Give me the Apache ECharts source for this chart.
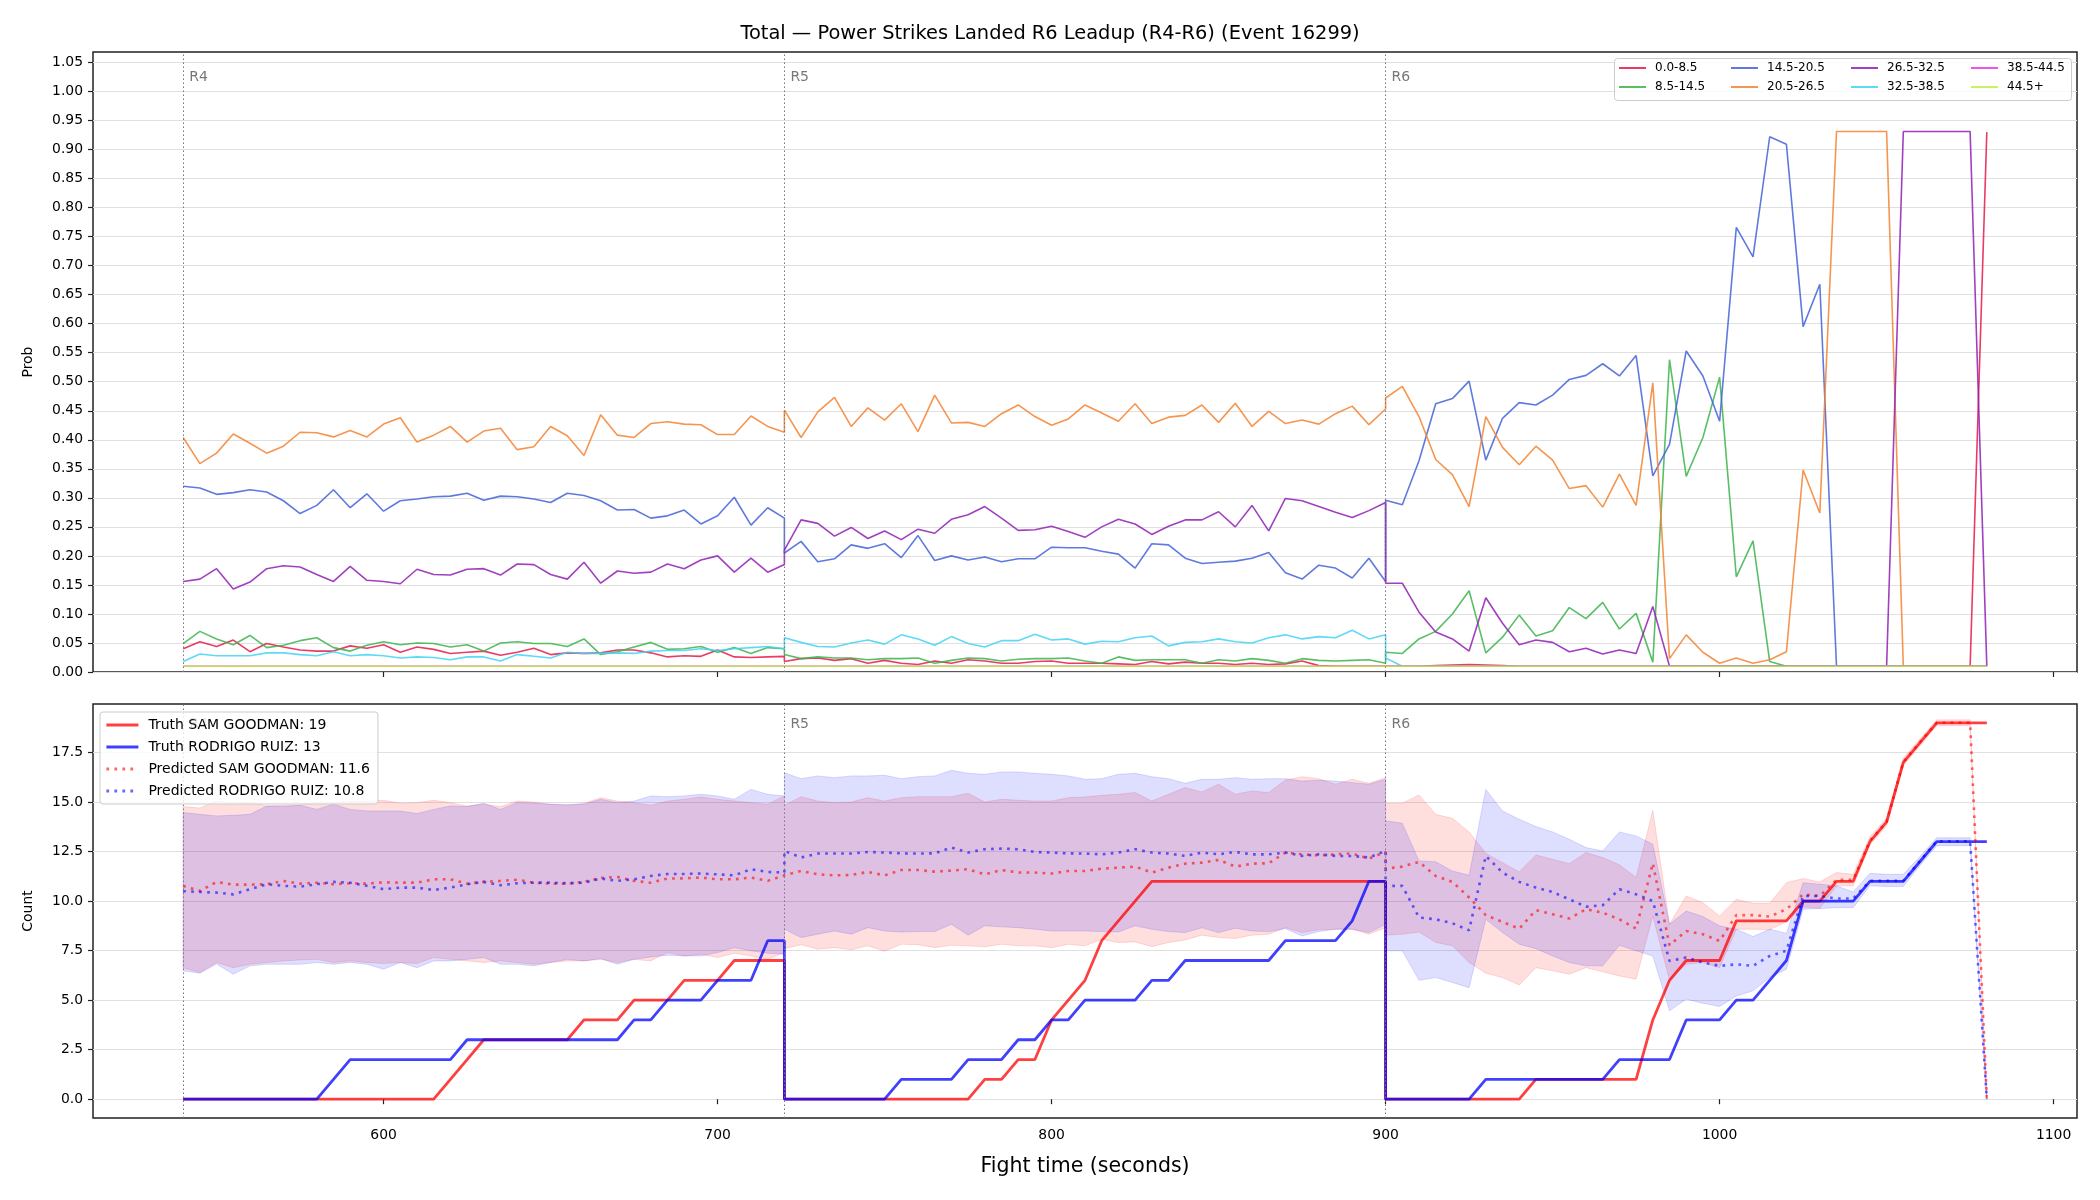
<!DOCTYPE html>
<html>
<head>
<meta charset="utf-8">
<title>Power Strikes Landed R6 Leadup</title>
<script src="https://cdn.jsdelivr.net/npm/echarts@6/dist/echarts.min.js"></script>
<style>
  html, body { margin: 0; padding: 0; background: #fff; }
  #chart { width: 2100px; height: 1200px; }
</style>
</head>
<body>
<div id="chart"></div>
<script>
const FONT = 'DejaVu Sans';

// one sample every 5 s, each round 180 s long; rounds share their boundary second
const roundStarts = [540, 720, 900];
const roundNames = ['R4', 'R5', 'R6'];
const times = [];
roundStarts.forEach(function (s) {
    for (let t = s; t <= s + 180; t += 5) times.push(t);
});

const xTicks = [600, 700, 800, 900, 1000, 1100];
const probTicks = [0, 0.05, 0.1, 0.15, 0.2, 0.25, 0.3, 0.35, 0.4, 0.45, 0.5, 0.55, 0.6, 0.65, 0.7, 0.75, 0.8, 0.85, 0.9, 0.95, 1.0, 1.05];
const countTicks = [0, 2.5, 5, 7.5, 10, 12.5, 15, 17.5];

const buckets = ['0.0-8.5', '8.5-14.5', '14.5-20.5', '20.5-26.5', '26.5-32.5', '32.5-38.5', '38.5-44.5', '44.5+'];
const bucketColors = ['#e6194b', '#3cb44b', '#4363d8', '#f58231', '#911eb4', '#42d4f4', '#f032e6', '#bfef45'];

// probability per bucket (R4 / R5 / R6 rows)
const p0_8 = [
    0.040,0.052,0.044,0.055,0.035,0.049,0.043,0.038,0.036,0.036,0.045,0.041,0.047,0.034,0.043,0.039,0.032,0.034,0.036,0.029,0.034,0.041,0.030,0.033,0.032,0.033,0.038,0.038,0.033,0.026,0.028,0.027,0.038,0.026,0.025,0.026,0.027,
    0.018,0.023,0.024,0.020,0.023,0.015,0.020,0.015,0.013,0.019,0.015,0.021,0.019,0.015,0.015,0.018,0.019,0.015,0.015,0.015,0.014,0.013,0.018,0.014,0.017,0.015,0.015,0.013,0.015,0.013,0.014,0.019,0.011,0.010,0.010,0.010,0.010,
    0.010,0.010,0.010,0.011,0.012,0.013,0.012,0.011,0.010,0.010,0.010,0.010,0.010,0.010,0.010,0.010,0.010,0.010,0.010,0.010,0.010,0.010,0.010,0.010,0.010,0.010,0.010,0.010,0.010,0.010,0.010,0.010,0.010,0.010,0.010,0.010,0.930
];
const p8_14 = [
    0.049,0.070,0.057,0.047,0.063,0.042,0.046,0.054,0.059,0.042,0.036,0.046,0.052,0.047,0.050,0.049,0.043,0.047,0.036,0.050,0.052,0.049,0.049,0.044,0.057,0.030,0.035,0.043,0.051,0.039,0.040,0.044,0.034,0.042,0.032,0.042,0.040,
    0.030,0.023,0.026,0.024,0.024,0.021,0.023,0.023,0.024,0.015,0.020,0.024,0.023,0.019,0.022,0.023,0.023,0.024,0.019,0.015,0.026,0.020,0.021,0.021,0.021,0.015,0.021,0.019,0.023,0.020,0.015,0.023,0.020,0.019,0.020,0.021,0.015,
    0.034,0.032,0.057,0.070,0.100,0.140,0.033,0.060,0.098,0.062,0.071,0.111,0.092,0.120,0.074,0.101,0.017,0.538,0.337,0.404,0.508,0.164,0.226,0.018,0.010,0.010,0.010,0.010,0.010,0.010,0.010,0.010,0.010,0.010,0.010,0.010,0.010
];
const p14_20 = [
    0.320,0.317,0.306,0.309,0.314,0.310,0.295,0.273,0.287,0.314,0.283,0.307,0.277,0.295,0.298,0.302,0.303,0.308,0.296,0.303,0.302,0.298,0.292,0.308,0.304,0.295,0.279,0.280,0.265,0.269,0.279,0.255,0.269,0.301,0.253,0.283,0.265,
    0.205,0.225,0.190,0.195,0.219,0.213,0.221,0.197,0.235,0.192,0.200,0.193,0.198,0.190,0.195,0.195,0.215,0.214,0.214,0.208,0.203,0.179,0.221,0.219,0.196,0.187,0.189,0.191,0.196,0.206,0.171,0.160,0.184,0.179,0.162,0.196,0.156,
    0.296,0.288,0.364,0.462,0.471,0.501,0.365,0.437,0.464,0.460,0.477,0.504,0.511,0.531,0.510,0.545,0.338,0.392,0.553,0.510,0.432,0.766,0.715,0.922,0.909,0.595,0.668,0.010,0.010,0.010,0.010,0.010,0.010,0.010,0.010,0.010,0.010
];
const p20_26 = [
    0.404,0.359,0.377,0.410,0.394,0.377,0.389,0.413,0.412,0.405,0.416,0.405,0.427,0.438,0.396,0.408,0.423,0.396,0.415,0.420,0.383,0.388,0.423,0.407,0.373,0.443,0.408,0.404,0.428,0.431,0.427,0.426,0.409,0.409,0.441,0.423,0.413,
    0.451,0.404,0.448,0.473,0.423,0.455,0.434,0.462,0.414,0.477,0.429,0.430,0.423,0.445,0.460,0.440,0.425,0.436,0.460,0.446,0.432,0.462,0.428,0.439,0.442,0.460,0.430,0.463,0.423,0.449,0.428,0.434,0.427,0.445,0.458,0.426,0.453,
    0.472,0.492,0.440,0.366,0.340,0.285,0.440,0.387,0.357,0.389,0.365,0.316,0.321,0.284,0.341,0.287,0.498,0.023,0.064,0.034,0.015,0.024,0.015,0.021,0.035,0.348,0.274,0.931,0.931,0.931,0.931,0.010,0.010,0.010,0.010,0.010,0.010
];
const p26_32 = [
    0.156,0.160,0.178,0.143,0.155,0.178,0.183,0.181,0.168,0.156,0.182,0.158,0.156,0.152,0.177,0.168,0.167,0.177,0.178,0.167,0.186,0.185,0.168,0.160,0.189,0.153,0.174,0.170,0.172,0.186,0.178,0.193,0.200,0.172,0.196,0.172,0.185,
    0.210,0.262,0.256,0.234,0.249,0.230,0.243,0.228,0.246,0.239,0.263,0.271,0.285,0.265,0.244,0.245,0.251,0.242,0.232,0.250,0.263,0.255,0.237,0.251,0.262,0.262,0.276,0.250,0.287,0.243,0.299,0.295,0.285,0.275,0.266,0.278,0.292,
    0.153,0.153,0.103,0.069,0.057,0.036,0.128,0.084,0.047,0.055,0.051,0.035,0.041,0.031,0.038,0.032,0.113,0.010,0.010,0.010,0.010,0.010,0.010,0.010,0.010,0.010,0.010,0.010,0.010,0.010,0.010,0.931,0.931,0.931,0.931,0.931,0.010
];
const p32_38 = [
    0.018,0.031,0.028,0.028,0.028,0.033,0.033,0.030,0.028,0.035,0.028,0.030,0.028,0.024,0.026,0.025,0.021,0.026,0.026,0.019,0.030,0.027,0.024,0.034,0.032,0.032,0.033,0.032,0.036,0.037,0.037,0.040,0.037,0.040,0.042,0.044,0.040,
    0.059,0.051,0.044,0.043,0.050,0.055,0.048,0.064,0.057,0.046,0.061,0.049,0.043,0.054,0.054,0.065,0.055,0.057,0.048,0.053,0.052,0.059,0.062,0.045,0.051,0.052,0.057,0.052,0.050,0.059,0.064,0.057,0.061,0.059,0.072,0.057,0.064,
    0.024,0.010,0.010,0.010,0.010,0.010,0.010,0.010,0.010,0.010,0.010,0.010,0.010,0.010,0.010,0.010,0.010,0.010,0.010,0.010,0.010,0.010,0.010,0.010,0.010,0.010,0.010,0.010,0.010,0.010,0.010,0.010,0.010,0.010,0.010,0.010,0.010
];
const p38_44 = [
    0.010,0.010,0.010,0.010,0.010,0.010,0.010,0.010,0.010,0.010,0.010,0.010,0.010,0.010,0.010,0.010,0.010,0.010,0.010,0.010,0.010,0.010,0.010,0.010,0.010,0.010,0.010,0.010,0.010,0.010,0.010,0.010,0.010,0.010,0.010,0.010,0.010,
    0.010,0.010,0.010,0.010,0.010,0.010,0.010,0.010,0.010,0.010,0.010,0.010,0.010,0.010,0.010,0.010,0.010,0.010,0.010,0.010,0.010,0.010,0.010,0.010,0.010,0.010,0.010,0.010,0.010,0.010,0.010,0.010,0.010,0.010,0.010,0.010,0.010,
    0.010,0.010,0.010,0.010,0.010,0.010,0.010,0.010,0.010,0.010,0.010,0.010,0.010,0.010,0.010,0.010,0.010,0.010,0.010,0.010,0.010,0.010,0.010,0.010,0.010,0.010,0.010,0.010,0.010,0.010,0.010,0.010,0.010,0.010,0.010,0.010,0.010
];
const p44up = [
    0.010,0.010,0.010,0.010,0.010,0.010,0.010,0.010,0.010,0.010,0.010,0.010,0.010,0.010,0.010,0.010,0.010,0.010,0.010,0.010,0.010,0.010,0.010,0.010,0.010,0.010,0.010,0.010,0.010,0.010,0.010,0.010,0.010,0.010,0.010,0.010,0.010,
    0.010,0.010,0.010,0.010,0.010,0.010,0.010,0.010,0.010,0.010,0.010,0.010,0.010,0.010,0.010,0.010,0.010,0.010,0.010,0.010,0.010,0.010,0.010,0.010,0.010,0.010,0.010,0.010,0.010,0.010,0.010,0.010,0.010,0.010,0.010,0.010,0.010,
    0.010,0.010,0.010,0.010,0.010,0.010,0.010,0.010,0.010,0.010,0.010,0.010,0.010,0.010,0.010,0.010,0.010,0.010,0.010,0.010,0.010,0.010,0.010,0.010,0.010,0.010,0.010,0.010,0.010,0.010,0.010,0.010,0.010,0.010,0.010,0.010,0.010
];
const probSeries = [p0_8, p8_14, p14_20, p20_26, p26_32, p32_38, p38_44, p44up];

// cumulative counts
const truthSam = [
    0,0,0,0,0,0,0,0,0,0,0,0,0,0,0,0,1,2,3,3,3,3,3,3,4,4,4,5,5,5,6,6,6,7,7,7,7,
    0,0,0,0,0,0,0,0,0,0,0,0,1,1,2,2,4,5,6,8,9,10,11,11,11,11,11,11,11,11,11,11,11,11,11,11,11,
    0,0,0,0,0,0,0,0,0,1,1,1,1,1,1,1,4,6,7,7,7,9,9,9,9,10,10,11,11,13,14,17,18,19,19,19,19
];
const truthRuiz = [
    0,0,0,0,0,0,0,0,0,1,2,2,2,2,2,2,2,3,3,3,3,3,3,3,3,3,3,4,4,5,5,5,6,6,6,8,8,
    0,0,0,0,0,0,0,1,1,1,1,2,2,2,3,3,4,4,5,5,5,5,6,6,7,7,7,7,7,7,8,8,8,8,9,11,11,
    0,0,0,0,0,0,1,1,1,1,1,1,1,1,2,2,2,2,4,4,4,5,5,6,7,10,10,10,10,11,11,11,12,13,13,13,13
];
const predSam = [
    10.77,10.51,10.97,10.83,10.83,10.85,11.02,10.88,10.93,10.85,10.90,10.88,10.95,10.93,10.93,11.10,11.10,10.88,10.97,11.02,11.08,10.93,10.88,10.88,10.97,11.17,11.22,11.02,10.93,11.14,11.15,11.19,11.10,11.10,11.19,11.02,11.30,
    11.35,11.52,11.35,11.30,11.32,11.47,11.30,11.57,11.57,11.49,11.54,11.61,11.35,11.57,11.44,11.44,11.39,11.52,11.52,11.64,11.69,11.74,11.44,11.69,11.89,11.94,12.08,11.74,11.89,11.91,12.45,12.36,12.31,12.36,12.41,12.14,12.48,
    11.64,11.74,11.98,11.27,10.97,10.18,9.29,8.95,8.61,9.54,9.34,9.12,9.59,9.42,9.08,8.61,11.91,7.77,8.49,8.33,7.99,9.29,9.29,9.22,9.59,10.34,10.26,11.07,11.07,13.04,14.00,17.02,18.03,19.00,19.00,19.00,0.00
];
const predRuiz = [
    10.50,10.46,10.43,10.34,10.60,10.85,10.77,10.73,10.85,10.97,10.93,10.77,10.60,10.68,10.68,10.56,10.68,10.85,10.97,10.80,10.90,10.93,10.93,10.90,10.93,11.14,11.02,11.10,11.27,11.37,11.37,11.39,11.35,11.30,11.61,11.47,11.44,
    12.53,12.20,12.40,12.40,12.40,12.48,12.45,12.41,12.40,12.41,12.70,12.45,12.62,12.65,12.62,12.48,12.45,12.41,12.40,12.36,12.45,12.62,12.45,12.40,12.28,12.45,12.36,12.48,12.36,12.36,12.45,12.28,12.36,12.28,12.28,12.20,12.53,
    10.77,10.77,9.17,9.08,8.88,8.53,12.28,11.44,10.97,10.68,10.46,10.09,9.72,9.79,10.60,10.34,10.00,6.98,7.15,6.90,6.73,6.81,6.73,7.23,7.49,10.26,10.26,10.13,10.13,11.02,11.02,11.02,12.03,13.02,13.02,13.02,0.00
];
// prediction bands
const samHi = [
    14.77,14.70,15.05,14.97,15.00,14.80,14.84,14.84,14.97,14.97,15.05,15.05,15.09,14.94,14.97,15.09,14.97,14.80,14.89,14.77,15.05,15.00,14.89,14.84,14.94,15.22,15.05,14.97,14.84,15.05,15.14,15.26,15.14,15.05,14.97,14.89,15.31,
    14.84,15.27,15.05,14.97,15.00,15.22,15.05,15.22,15.27,15.27,15.27,15.44,15.00,15.14,15.09,15.05,15.05,15.22,15.26,15.34,15.39,15.48,15.05,15.39,15.73,15.51,15.90,15.39,15.56,15.48,16.11,16.28,16.18,15.90,16.15,15.95,16.23,
    14.94,14.94,15.36,14.38,14.18,13.49,12.41,11.94,11.47,12.33,12.11,11.89,12.45,12.20,11.83,11.19,14.58,8.83,10.26,9.92,9.25,10.09,9.89,9.89,10.93,11.14,10.97,11.44,11.35,13.25,14.20,17.20,18.20,19.15,19.15,19.15,0.00
];
const samLo = [
    6.64,6.39,6.90,6.64,6.81,6.90,6.98,7.03,7.06,6.90,6.98,6.90,6.85,6.90,6.85,7.15,7.06,6.98,6.90,6.98,6.90,6.81,6.90,6.98,6.98,7.06,6.90,7.06,6.98,7.40,7.23,7.32,7.15,7.37,7.23,7.06,7.40,
    7.60,7.80,7.57,7.65,7.54,7.74,7.47,7.82,7.80,7.65,7.77,7.74,7.69,7.82,7.74,7.74,7.65,7.82,7.74,8.07,7.91,7.94,7.70,7.91,8.04,8.28,8.16,8.11,8.28,8.33,8.66,8.41,8.55,8.58,8.58,8.33,8.66,
    8.28,8.33,8.44,7.91,7.74,6.90,6.36,6.14,5.77,6.64,6.48,6.31,6.64,6.43,6.22,6.06,9.25,6.02,6.81,6.90,6.64,8.58,8.58,8.55,8.97,9.72,9.62,10.77,10.77,12.85,13.80,16.85,17.85,18.85,18.85,18.85,0.00
];
const ruizHi = [
    14.47,14.38,14.30,14.33,14.38,14.80,14.77,14.84,14.63,14.89,14.63,14.55,14.55,14.55,14.42,14.63,14.80,14.77,14.94,14.63,14.97,14.94,14.89,14.87,14.89,15.14,14.97,15.05,15.31,15.27,15.31,15.39,15.31,15.14,15.64,15.39,15.31,
    16.48,16.18,16.32,16.23,16.32,16.32,16.35,16.18,16.28,16.32,16.60,16.45,16.40,16.52,16.52,16.45,16.40,16.32,16.15,16.18,16.40,16.45,16.28,16.18,15.95,16.15,16.15,16.23,16.15,16.18,16.18,16.06,16.10,16.06,15.98,15.90,16.15,
    14.05,13.93,12.03,11.98,11.52,11.30,15.64,14.55,14.13,13.76,13.49,13.12,12.70,12.53,13.49,13.29,12.87,8.83,9.50,9.22,8.75,8.58,8.21,8.58,8.38,10.93,10.85,10.77,10.46,11.40,11.35,11.35,12.25,13.20,13.20,13.20,0.00
];
const ruizLo = [
    6.48,6.36,6.82,6.31,6.73,6.81,6.81,6.81,6.90,6.81,6.90,6.81,6.56,6.90,6.64,6.98,6.98,7.06,7.15,6.81,6.81,6.73,6.90,7.06,6.98,7.10,6.81,7.06,7.18,7.27,7.23,7.23,7.40,7.65,7.49,7.37,7.32,
    8.58,8.16,8.33,8.49,8.33,8.66,8.49,8.44,8.46,8.46,8.83,8.28,8.75,8.70,8.66,8.58,8.49,8.49,8.49,8.46,8.44,8.75,8.58,8.46,8.41,8.65,8.41,8.63,8.49,8.46,8.61,8.24,8.46,8.58,8.58,8.41,8.83,
    7.49,7.49,6.00,6.14,5.89,5.63,9.08,8.41,7.82,7.60,7.23,6.90,6.73,6.73,7.77,7.49,7.23,4.46,5.05,4.84,4.68,5.21,5.47,6.14,6.56,9.59,9.62,9.67,9.67,10.77,10.74,10.74,11.80,12.80,12.80,12.80,0.00
];

const samName = 'SAM GOODMAN';
const ruizName = 'RODRIGO RUIZ';
const finalTruth = { sam: 19, ruiz: 13 };
const finalPred = { sam: 11.6, ruiz: 10.8 };

function pairs(vals) {
    return times.map(function (t, i) { return [t, vals[i]]; });
}

function bandSeries(lo, hi, color) {
    return {
        type: 'custom',
        xAxisIndex: 1,
        yAxisIndex: 1,
        silent: true,
        z: 1,
        data: [[times[0], lo[0]]],
        renderItem: function (params, api) {
            const pts = [];
            for (let i = 0; i < times.length; i++) pts.push(api.coord([times[i], hi[i]]));
            for (let j = times.length - 1; j >= 0; j--) pts.push(api.coord([times[j], lo[j]]));
            return {
                type: 'polygon',
                shape: { points: pts },
                style: { fill: color, stroke: color, lineWidth: 1 }
            };
        }
    };
}

// vertical round markers + their R4/R5/R6 labels, one helper series per panel
function roundMarkers(gridIdx, labelY) {
    return {
        type: 'scatter',
        xAxisIndex: gridIdx,
        yAxisIndex: gridIdx,
        symbolSize: 0,
        silent: true,
        z: 3,
        data: roundStarts.map(function (t, i) { return { value: [t, labelY], name: roundNames[i] }; }),
        label: {
            show: true, position: 'right', distance: 6, formatter: '{b}',
            color: '#555', fontSize: 14, fontFamily: FONT
        },
        markLine: {
            silent: true,
            symbol: ['none', 'none'],
            label: { show: false },
            lineStyle: { type: [1.5, 2.5], color: '#777', width: 1 },
            data: roundStarts.map(function (t) { return { xAxis: t }; })
        }
    };
}

const tickStyle = { show: true, length: 5, lineStyle: { color: '#222', width: 1.2 } };
const labelStyle = { color: '#000', fontSize: 13.9, fontFamily: FONT };

const series = [];
probSeries.forEach(function (vals, i) {
    series.push({
        name: buckets[i],
        type: 'line',
        xAxisIndex: 0,
        yAxisIndex: 0,
        symbol: 'none',
        data: pairs(vals),
        lineStyle: { color: bucketColors[i], width: 1.6, opacity: 0.85 },
        itemStyle: { color: bucketColors[i], opacity: 0.85 },
        z: 2
    });
});
series.push(roundMarkers(0, 1.024));

series.push(bandSeries(samLo, samHi, 'rgba(255,0,0,0.13)'));
series.push(bandSeries(ruizLo, ruizHi, 'rgba(0,0,255,0.13)'));

const countLines = [
    { name: 'Truth ' + samName + ': ' + finalTruth.sam, vals: truthSam, color: 'rgba(255,0,0,0.75)', dash: 'solid', width: 2.8 },
    { name: 'Truth ' + ruizName + ': ' + finalTruth.ruiz, vals: truthRuiz, color: 'rgba(0,0,255,0.75)', dash: 'solid', width: 2.8 },
    { name: 'Predicted ' + samName + ': ' + finalPred.sam, vals: predSam, color: 'rgba(255,0,0,0.6)', dash: [2.7, 5.3], width: 2.6 },
    { name: 'Predicted ' + ruizName + ': ' + finalPred.ruiz, vals: predRuiz, color: 'rgba(0,0,255,0.6)', dash: [2.7, 5.3], width: 2.6 }
];
countLines.forEach(function (c) {
    series.push({
        name: c.name,
        type: 'line',
        xAxisIndex: 1,
        yAxisIndex: 1,
        symbol: 'none',
        data: pairs(c.vals),
        lineStyle: { color: c.color, width: c.width, type: c.dash, cap: 'butt' },
        itemStyle: { color: c.color },
        z: 2
    });
});
series.push(roundMarkers(1, 18.93));

// legend handles: line only, hide the marker ECharts adds for line series
const handleOnly = { opacity: 0 };

// top legend: 4 columns of 2
const legendLefts = [1618, 1730, 1850, 1970];
const topLegends = legendLefts.map(function (left, k) {
    return {
        orient: 'vertical',
        left: left,
        top: 62,
        data: [buckets[2 * k], buckets[2 * k + 1]],
        itemWidth: 27,
        itemHeight: 12,
        itemGap: 7,
        padding: 0,
        selectedMode: false,
        itemStyle: handleOnly,
        lineStyle: { width: 2 },
        z: 6,
        textStyle: { color: '#000', fontSize: 12, fontFamily: FONT, padding: [0, 0, 0, 4] }
    };
});
const bottomLegend = {
    orient: 'vertical',
    left: 100,
    top: 712,
    data: countLines.map(function (c) { return c.name; }),
    itemWidth: 32,
    itemHeight: 14,
    itemGap: 8,
    padding: [6, 8, 6, 5],
    backgroundColor: 'rgba(255,255,255,0.8)',
    borderColor: '#ccc',
    borderWidth: 1,
    borderRadius: 3,
    selectedMode: false,
    itemStyle: handleOnly,
    lineStyle: { width: 2.8 },
    z: 6,
    textStyle: { color: '#000', fontSize: 14, fontFamily: FONT, padding: [0, 0, 0, 5] }
};

const chart = echarts.init(document.getElementById('chart'), null, { renderer: 'canvas' });
chart.setOption({
    animation: false,
    backgroundColor: '#fff',
    title: {
        text: 'Total \u2014 Power Strikes Landed R6 Leadup (R4-R6) (Event 16299)',
        left: 'center',
        top: 19,
        padding: [5, 0, 5, 70],
        textStyle: { color: '#000', fontSize: 19.4, fontWeight: 'normal', fontFamily: FONT }
    },
    legend: topLegends.concat([bottomLegend]),
    graphic: [{
        type: 'rect',
        left: 1614,
        top: 58,
        z: 5,
        shape: { width: 457, height: 42, r: 3 },
        style: { fill: 'rgba(255,255,255,0.8)', stroke: '#ccc', lineWidth: 1 }
    }],
    grid: [
        { left: 93, top: 52, width: 1984, height: 620, show: true, borderColor: '#222', borderWidth: 1.5, backgroundColor: 'transparent' },
        { left: 93, top: 704, width: 1984, height: 414, show: true, borderColor: '#222', borderWidth: 1.5, backgroundColor: 'transparent' }
    ],
    xAxis: [
        {
            type: 'value', gridIndex: 0, min: 513, max: 1107,
            axisLine: { show: false },
            axisTick: Object.assign({ customValues: xTicks }, tickStyle),
            axisLabel: { show: false, customValues: xTicks },
            splitLine: { show: false }
        },
        {
            type: 'value', gridIndex: 1, min: 513, max: 1107,
            name: 'Fight time (seconds)', nameLocation: 'middle', nameGap: 38,
            nameTextStyle: { color: '#000', fontSize: 20.5, fontFamily: FONT },
            axisLine: { show: false },
            axisTick: Object.assign({ customValues: xTicks }, tickStyle),
            axisLabel: Object.assign({ customValues: xTicks, margin: 10, formatter: function (v) { return String(v); } }, labelStyle),
            splitLine: { show: false }
        }
    ],
    yAxis: [
        {
            type: 'value', gridIndex: 0, min: 0, max: 1.068, interval: 0.05,
            name: 'Prob', nameLocation: 'middle', nameGap: 58,
            nameTextStyle: { color: '#000', fontSize: 13.9, fontFamily: FONT },
            axisLine: { show: false },
            axisTick: Object.assign({ customValues: probTicks }, tickStyle),
            axisLabel: Object.assign({ customValues: probTicks, margin: 10, formatter: function (v) { return v.toFixed(2); } }, labelStyle),
            splitLine: { show: true, lineStyle: { color: '#e0e0e0', width: 1 } }
        },
        {
            type: 'value', gridIndex: 1, min: -0.95, max: 19.95,
            name: 'Count', nameLocation: 'middle', nameGap: 58,
            nameTextStyle: { color: '#000', fontSize: 13.9, fontFamily: FONT },
            axisLine: { show: false },
            axisTick: Object.assign({ customValues: countTicks }, tickStyle),
            axisLabel: Object.assign({ customValues: countTicks, margin: 10, formatter: function (v) { return v.toFixed(1); } }, labelStyle),
            splitLine: { show: true, lineStyle: { color: '#e0e0e0', width: 1 } }
        }
    ],
    series: series
});
</script>
</body>
</html>
